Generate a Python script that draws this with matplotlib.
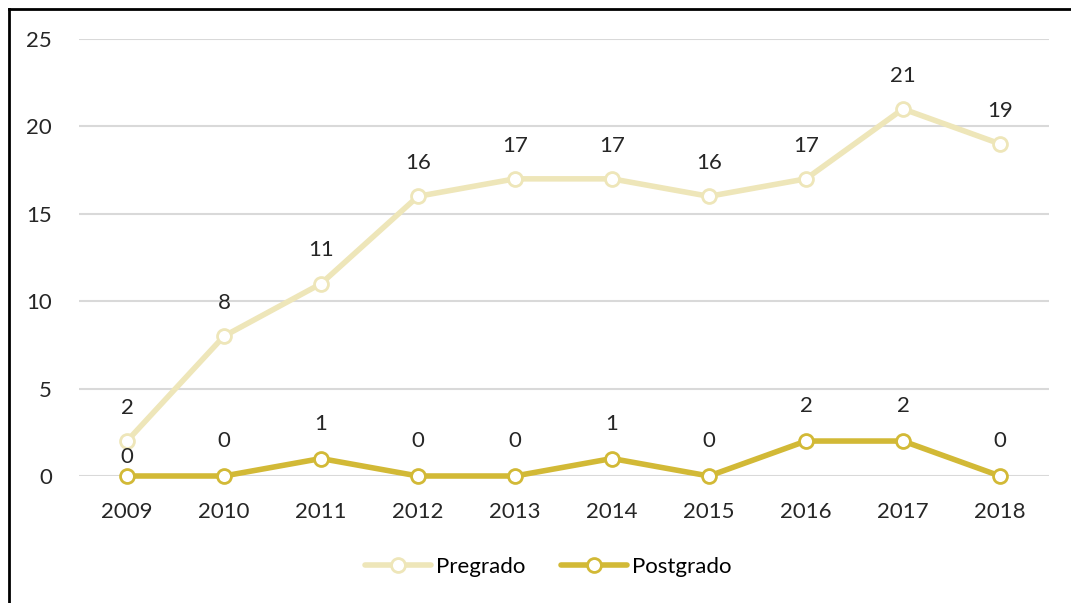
import numpy as np
import matplotlib.pyplot as plt
from matplotlib.lines import Line2D

years = ['2009', '2010', '2011', '2012', '2013', '2014', '2015', '2016', '2017', '2018']
pregrado = [2, 8, 11, 16, 17, 17, 16, 17, 21, 19]
postgrado = [0, 0, 1, 0, 0, 1, 0, 2, 2, 0]
yticks = [0, 5, 10, 15, 20, 25]

c_pre = '#EEE6B9'
c_post = '#D2B936'
txt = '#262626'

plt.rcParams['font.family'] = ['Lato', 'DejaVu Sans']

fig = plt.figure(figsize=(10.71, 6.03), dpi=100)
ax = fig.add_axes([78.5 / 1071, 1 - 476 / 603, 970 / 1071, 437 / 603])

x = np.arange(len(years))
ax.plot(x, pregrado, color=c_pre, lw=4, marker='o', ms=10, mfc='white',
        mec=c_pre, mew=2, solid_capstyle='round', clip_on=False, zorder=3,
        label='Pregrado')
ax.plot(x, postgrado, color=c_post, lw=4, marker='o', ms=10, mfc='white',
        mec=c_post, mew=2, solid_capstyle='round', clip_on=False, zorder=4,
        label='Postgrado')

for i, v in enumerate(pregrado):
    ax.annotate(str(v), (i, v), xytext=(0, 24), textcoords='offset points',
                ha='center', va='center', fontsize=16, color=txt)
for i, v in enumerate(postgrado):
    off = 14 if i == 0 else 25
    ax.annotate(str(v), (i, v), xytext=(0, off), textcoords='offset points',
                ha='center', va='center', fontsize=16, color=txt)

ax.set_xlim(-0.5, len(years) - 0.5)
ax.set_ylim(0, 25)
ax.set_yticks(yticks)
ax.set_xticks(x)
ax.set_xticklabels(years)
ax.grid(axis='y', color='#D9D9D9', lw=1.5)
ax.set_axisbelow(True)
for s in ax.spines.values():
    s.set_visible(False)
ax.tick_params(length=0, labelsize=16, colors=txt)
ax.tick_params(axis='y', pad=19)
ax.tick_params(axis='x', pad=19)

ax.legend(loc='center', bbox_to_anchor=(548 / 1071, 1 - 567 / 603),
          bbox_transform=fig.transFigure, ncol=2, frameon=False, fontsize=16,
          handlelength=3.0, columnspacing=1.6, handletextpad=0.2)

# outer frame, only left and top edges visible
fig.add_artist(Line2D([9 / 1071, 9 / 1071], [0, 1 - 9 / 603], color='black',
                      lw=2, transform=fig.transFigure))
fig.add_artist(Line2D([9 / 1071, 1], [1 - 9 / 603, 1 - 9 / 603], color='black',
                      lw=2, transform=fig.transFigure))

fig.savefig('out.png', dpi=100, facecolor='white')
